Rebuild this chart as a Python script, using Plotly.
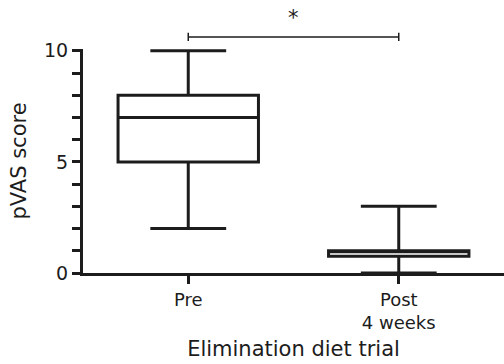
import plotly.graph_objects as go

categories = ["Pre", "Post<br>4 weeks"]
q1 = [5, 0.75]
median = [7, 1.0]
q3 = [8, 1.0]
lower = [2, 0]
upper = [10, 3]
y_ticks = [0, 5, 10]
y_tick_labels = ["0", "5", "10"]
sig_label = "*"

INK = "#1c1c1c"
FONT = "DejaVu Sans"

fig = go.Figure()
fig.add_trace(go.Box(
    x=[0, 1],
    q1=q1, median=median, q3=q3,
    lowerfence=lower, upperfence=upper,
    width=0.667,
    whiskerwidth=0.54,
    fillcolor="white",
    line=dict(color=INK, width=3),
    boxpoints=False,
    showlegend=False,
    hoverinfo="skip",
))

xr = [-0.5, 1.5]
def xpaper(v):
    return (v - xr[0]) / (xr[1] - xr[0])

# significance bracket
yb = 1.054
fig.add_shape(type="line", xref="paper", yref="paper",
              x0=xpaper(0), x1=xpaper(1), y0=yb, y1=yb,
              line=dict(color=INK, width=1.5))
for xv in (0, 1):
    fig.add_shape(type="line", xref="paper", yref="paper",
                  x0=xpaper(xv), x1=xpaper(xv), y0=yb - 0.018, y1=yb + 0.018,
                  line=dict(color=INK, width=1.5))
fig.add_annotation(x=xpaper(0.5), y=1.2, xref="paper", yref="paper",
                   text=sig_label, showarrow=False,
                   font=dict(family=FONT, size=21, color=INK))

fig.update_layout(
    width=504, height=364,
    margin=dict(l=83, r=0, t=49, b=91),
    paper_bgcolor="white", plot_bgcolor="white",
    font=dict(family=FONT, color=INK),
    xaxis=dict(
        range=xr, tickmode="array", tickvals=[0, 1], ticktext=categories,
        showline=True, linecolor=INK, linewidth=3,
        ticks="outside", ticklen=8, tickwidth=3, tickcolor=INK,
        showgrid=False, zeroline=False,
        tickfont=dict(family=FONT, size=18, color=INK),
        title=dict(text="Elimination diet trial", standoff=10,
                   font=dict(family=FONT, size=21, color=INK)),
    ),
    yaxis=dict(
        range=[0, 10.08], tickmode="array", tickvals=y_ticks, ticktext=y_tick_labels,
        showline=True, linecolor=INK, linewidth=3,
        ticks="outside", ticklen=8, tickwidth=2.5, tickcolor=INK,
        minor=dict(dtick=1, ticks="outside", ticklen=8, tickwidth=2.5, tickcolor=INK, showgrid=False),
        showgrid=False, zeroline=False,
        tickfont=dict(family=FONT, size=19, color=INK),
        title=dict(text="pVAS score", standoff=12,
                   font=dict(family=FONT, size=21, color=INK)),
    ),
)

fig.write_html("out.html", config={"displayModeBar": False},
               post_script="document.body.style.margin='0';")
